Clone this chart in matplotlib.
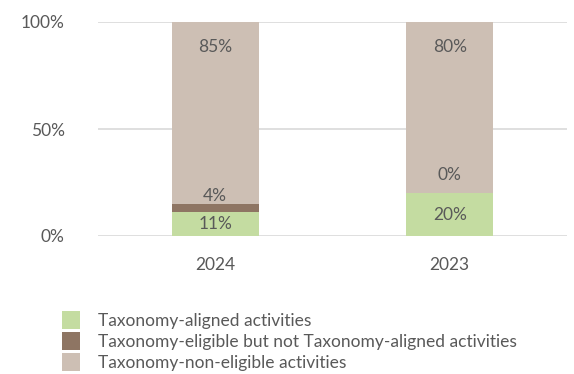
import matplotlib
matplotlib.use("Agg")
import matplotlib.pyplot as plt
from matplotlib.patches import Patch
import numpy as np

years = ["2024", "2023"]
aligned = [11, 20]
eligible_not_aligned = [4, 0]
non_eligible = [85, 80]
series_names = [
    "Taxonomy-aligned activities",
    "Taxonomy-eligible but not Taxonomy-aligned activities",
    "Taxonomy-non-eligible activities",
]
y_ticks = [0, 50, 100]

colors = ["#c4dca1", "#8e7563", "#cdbfb4"]
text_color = "#595959"
plt.rcParams["font.family"] = ["Lato", "DejaVu Sans"]

fig = plt.figure(figsize=(5.74, 3.74), dpi=100)
ax = fig.add_axes([98 / 574, 1 - 236 / 374, (567 - 98) / 574, 214 / 374])

x = np.arange(len(years))
width = 0.37
a = np.array(aligned, dtype=float)
e = np.array(eligible_not_aligned, dtype=float)
n = np.array(non_eligible, dtype=float)

ax.bar(x, a, width, color=colors[0], zorder=3)
ax.bar(x, e, width, bottom=a, color=colors[1], zorder=3)
ax.bar(x, n, width, bottom=a + e, color=colors[2], zorder=3)

fs = 12.5
# aligned share: centred in its segment
for xi, v in zip(x, a):
    ax.text(xi, v / 2, f"{v:.0f}%", ha="center", va="center", color=text_color, fontsize=fs, zorder=4)
# eligible-not-aligned share: just above its segment
for xi, b, v, off in zip(x, a, e, [5.5, 13]):
    ax.annotate(f"{v:.0f}%", (xi, b + v), xytext=(0, off), textcoords="offset points",
                ha="center", va="center", color=text_color, fontsize=fs, zorder=4)
# non-eligible share: near the top of the bar
for xi, b, v in zip(x, a + e, n):
    ax.annotate(f"{v:.0f}%", (xi, b + v), xytext=(0, -18), textcoords="offset points",
                ha="center", va="center", color=text_color, fontsize=fs, zorder=4)

ax.set_xlim(-0.5, 1.5)
ax.set_ylim(0, 100)
ax.set_yticks(y_ticks)
ax.set_yticklabels([f"{t}%" for t in y_ticks])
ax.set_xticks(x)
ax.set_xticklabels(years)
ax.grid(axis="y", color="#d9d9d9", linewidth=1.2, zorder=0)
for s in ax.spines.values():
    s.set_visible(False)
ax.tick_params(axis="both", length=0, colors=text_color, labelsize=fs)
ax.tick_params(axis="y", pad=24)
ax.tick_params(axis="x", pad=15)

handles = [Patch(facecolor=c, edgecolor="none") for c in colors]
fig.legend(handles, series_names, loc="upper left", bbox_to_anchor=(55 / 574, 1 - 304 / 374),
           frameon=False, fontsize=fs, labelcolor=text_color, handlelength=1.05,
           handleheight=1.2, handletextpad=1.05, labelspacing=0.2, borderaxespad=0)

fig.savefig("out.png", dpi=100)
